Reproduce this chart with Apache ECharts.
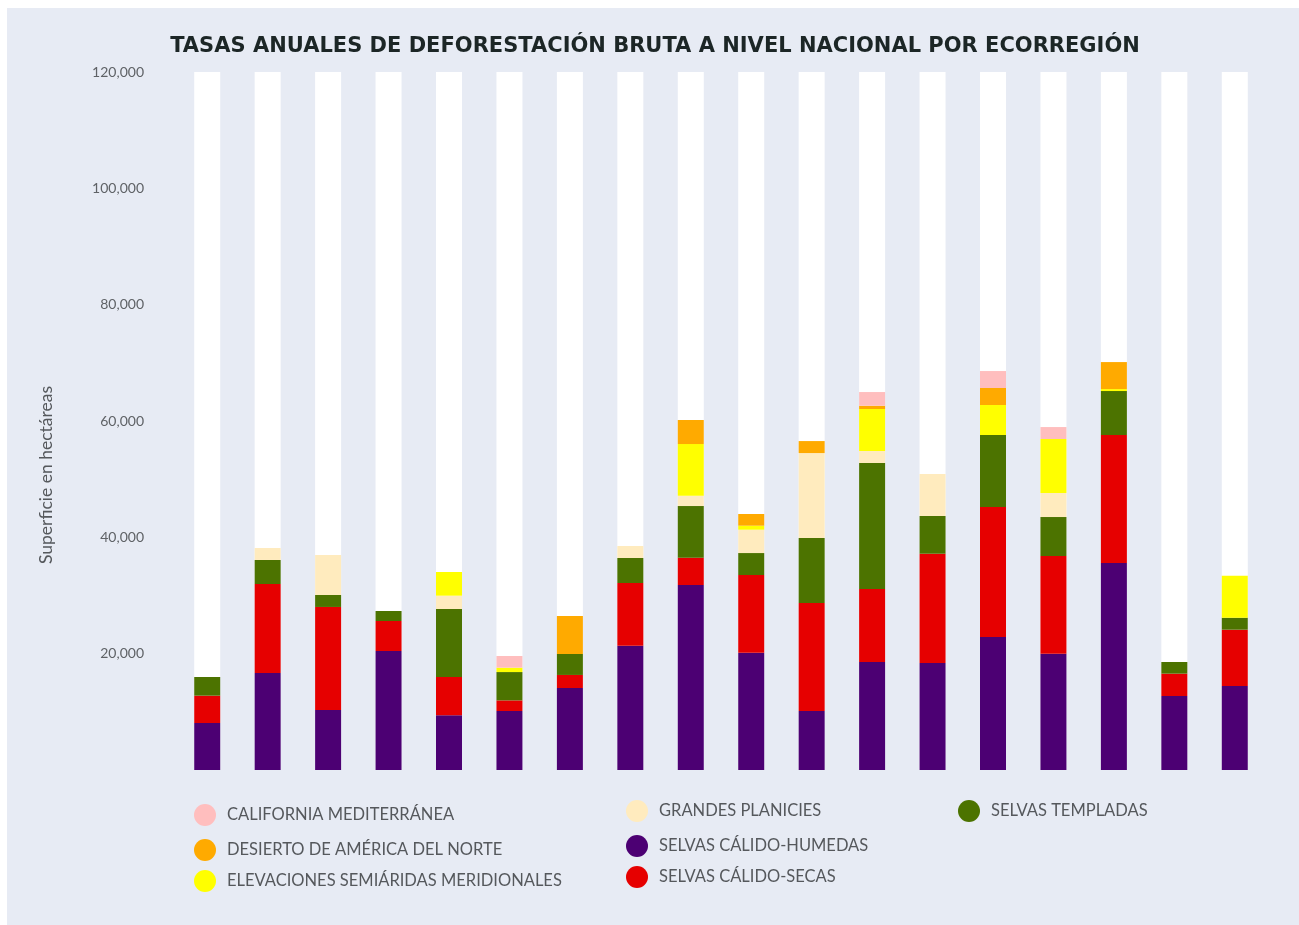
<!DOCTYPE html>
<html>
<head>
<meta charset="utf-8">
<title>Tasas anuales de deforestación bruta</title>
<script src="https://cdn.jsdelivr.net/npm/echarts@6/dist/echarts.min.js"></script>
<style>
  html, body { margin: 0; padding: 0; background: #ffffff; }
  #chart { width: 1299px; height: 925px; }
</style>
</head>
<body>
<div id="chart"></div>
<script>
// Annual periods (one stacked bar each; no axis labels are shown)
const periods = ['2001','2002','2003','2004','2005','2006','2007','2008','2009',
                 '2010','2011','2012','2013','2014','2015','2016','2017','2018'];

// Gross deforestation per ecoregion, hectares per year
const selvasCalidoHumedas = [8080, 16680, 10320, 20460, 9400, 10140, 14100, 21370, 31800,
                             20170, 10140, 18570, 18390, 22860, 20000, 35590, 12720, 14440];
const selvasCalidoSecas   = [4700, 15300, 17710, 5160, 6590, 1830, 2240, 10780, 4700,
                             13350, 18570, 12550, 18790, 22350, 16790, 22000, 3840, 9680];
const selvasTempladas     = [3210, 4130, 2060, 1720, 11690, 4870, 3610, 4300, 8880,
                             3780, 11170, 21660, 6480, 12380, 6700, 7560, 2010, 2060];
const grandesPlanicies    = [0, 2060, 6880, 0, 2290, 0, 0, 2060, 1780,
                             4010, 14610, 2060, 7220, 0, 4130, 0, 0, 0];
const elevaciones         = [0, 0, 0, 0, 4070, 750, 0, 0, 8880,
                             690, 0, 7220, 0, 5160, 9280, 340, 0, 7220];
const desierto            = [0, 0, 0, 0, 0, 0, 6530, 0, 4130,
                             2010, 2060, 570, 0, 2920, 0, 4640, 0, 0];
const california          = [0, 0, 0, 0, 0, 2010, 0, 0, 0,
                             0, 0, 2350, 0, 2920, 2060, 0, 0, 0];

// Y axis ticks
const yMax = 120000;
const yStep = 20000;

const names = {
  cal: 'CALIFORNIA MEDITERRÁNEA',
  des: 'DESIERTO DE AMÉRICA DEL NORTE',
  ele: 'ELEVACIONES SEMIÁRIDAS MERIDIONALES',
  gra: 'GRANDES PLANICIES',
  hum: 'SELVAS CÁLIDO-HUMEDAS',
  sec: 'SELVAS CÁLIDO-SECAS',
  tem: 'SELVAS TEMPLADAS'
};

const colors = {
  hum: '#4c0073',
  sec: '#e60000',
  tem: '#4c7300',
  gra: '#ffebbe',
  ele: '#ffff00',
  des: '#ffaa00',
  cal: '#ffbebe'
};

const chart = echarts.init(document.getElementById('chart'), null, { renderer: 'canvas' });

const barW = 26;
function stackSeries(key, data, extra) {
  return Object.assign({
    name: names[key],
    type: 'bar',
    stack: 'total',
    barWidth: barW,
    data: data,
    itemStyle: { color: colors[key] },
    emphasis: { disabled: true },
    animation: false
  }, extra || {});
}

const legendText = {
  color: '#55585c',
  fontFamily: 'Lato',
  fontSize: 16.5,
  padding: [0, 0, 0, 6]
};
function legendAt(key, left, top) {
  return {
    data: [names[key]],
    left: left,
    top: top,
    icon: 'circle',
    itemWidth: 22,
    itemHeight: 22,
    selectedMode: false,
    textStyle: legendText
  };
}

chart.setOption({
  backgroundColor: '#ffffff',
  animation: false,
  graphic: [
    { type: 'rect', z: -10, silent: true,
      shape: { x: 7, y: 8, width: 1292, height: 917 },
      style: { fill: '#e7ebf4' } },
    { type: 'text', silent: true,
      x: 46, y: 475, rotation: Math.PI / 2,
      style: {
        text: 'Superficie en hectáreas',
        fill: '#55585c',
        font: '17.5px Lato',
        align: 'center',
        verticalAlign: 'middle'
      } }
  ],
  title: {
    text: 'TASAS ANUALES DE DEFORESTACIÓN BRUTA A NIVEL NACIONAL POR ECORREGIÓN',
    left: 650,
    top: 31,
    textAlign: 'center',
    textStyle: {
      color: '#1c2626',
      fontFamily: 'DejaVu Sans',
      fontWeight: 'bold',
      fontSize: 21
    }
  },
  legend: [
    legendAt('cal', 189, 799),
    legendAt('des', 189, 834),
    legendAt('ele', 189, 865),
    legendAt('gra', 621, 795),
    legendAt('hum', 621, 830),
    legendAt('sec', 621, 861),
    legendAt('tem', 953, 795)
  ],
  grid: { left: 177, right: 34, top: 72, bottom: 155, containLabel: false },
  xAxis: {
    type: 'category',
    data: periods,
    boundaryGap: true,
    axisLine: { show: false },
    axisTick: { show: false },
    axisLabel: { show: false },
    splitLine: { show: false }
  },
  yAxis: {
    type: 'value',
    min: 0,
    max: yMax,
    interval: yStep,
    axisLine: { show: false },
    axisTick: { show: false },
    splitLine: { show: false },
    axisLabel: {
      margin: 33,
      color: '#5f6266',
      fontFamily: 'Lato',
      fontSize: 14,
      formatter: v => v === 0 ? '' : v.toLocaleString('en-US')
    }
  },
  series: [
    stackSeries('hum', selvasCalidoHumedas, {
      showBackground: true,
      backgroundStyle: { color: '#ffffff' }
    }),
    stackSeries('sec', selvasCalidoSecas),
    stackSeries('tem', selvasTempladas),
    stackSeries('gra', grandesPlanicies),
    stackSeries('ele', elevaciones),
    stackSeries('des', desierto),
    stackSeries('cal', california)
  ]
});
</script>
</body>
</html>
